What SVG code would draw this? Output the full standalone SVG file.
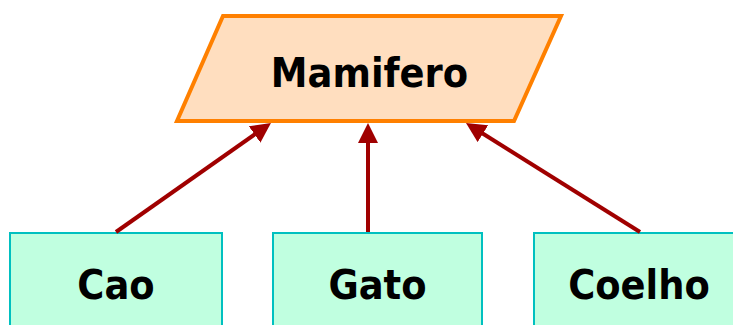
<svg xmlns="http://www.w3.org/2000/svg" width="733" height="325" viewBox="0 0 733 325">
<style>
.lbl{font-family:"DejaVu Sans Condensed","DejaVu Sans",sans-serif;font-weight:bold;font-size:41px;fill:#000;text-anchor:middle}
.box{fill:#C0FFE0;stroke:#00C0C0;stroke-width:2}
.conn{stroke:#A00000;stroke-width:4;fill:none}
</style>
<defs>
<marker id="ah" markerUnits="userSpaceOnUse" markerWidth="20" markerHeight="20" refX="5" refY="10" orient="auto">
<path d="M0,0 L20,10 L0,20 z" fill="#A00000"/>
</marker>
</defs>
<g id="mamifero">
<polygon points="223,16 561,16 514,121 177,121" fill="#FFDEBF" stroke="#FF8000" stroke-width="4"/>
<text class="lbl" x="369.5" y="87">Mamifero</text>
</g>
<g id="cao">
<rect class="box" x="10" y="233" width="212" height="100"/>
<text class="lbl" x="116" y="299">Cao</text>
</g>
<g id="gato">
<rect class="box" x="273" y="233" width="209" height="100"/>
<text class="lbl" x="377.5" y="299">Gato</text>
</g>
<g id="coelho">
<rect class="box" x="534" y="233" width="212" height="100"/>
<text class="lbl" x="639" y="299">Coelho</text>
</g>
<g id="connectors">
<line class="conn" x1="116" y1="232" x2="258.7" y2="131.6" marker-end="url(#ah)"/>
<line class="conn" x1="368" y1="232" x2="368" y2="138" marker-end="url(#ah)"/>
<line class="conn" x1="640" y1="232" x2="478.7" y2="131" marker-end="url(#ah)"/>
</g>
</svg>
